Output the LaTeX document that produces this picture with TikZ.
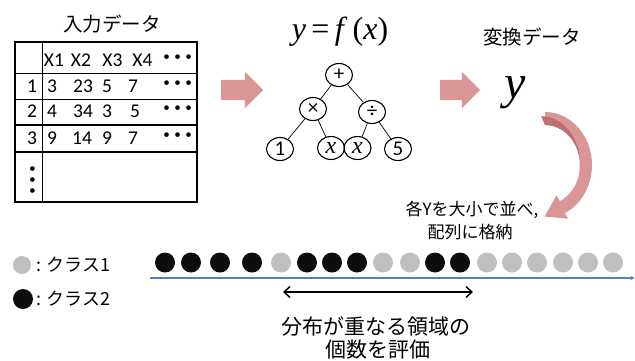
\documentclass[tikz,border=0pt]{standalone}
\usepackage{fontspec}
\setmainfont{Carlito}
\newfontfamily\cjk{Noto Sans CJK JP}
\newfontfamily\tms{Liberation Serif}
\usetikzlibrary{arrows.meta,shapes.geometric,shapes.arrows}
\definecolor{pinkarrow}{RGB}{217,150,148}
\definecolor{pinkdark}{RGB}{188,112,114}
\definecolor{dotgray}{RGB}{191,191,191}
\definecolor{dotblack}{RGB}{13,13,13}
\definecolor{lineblue}{RGB}{79,129,189}
\begin{document}
\begin{tikzpicture}[x=1pt,y=-1pt,
  tbl/.style={font=\fontsize{19.5}{20}\selectfont, inner sep=0pt, anchor=center},
  tdots/.style={font=\cjk\bfseries\fontsize{22}{22}\selectfont, inner sep=0pt, anchor=center},
  tnode/.style={ellipse, draw, line width=1.1pt, minimum width=27pt, minimum height=23pt, inner sep=0pt, font=\fontsize{21}{21}\selectfont},
  tedge/.style={line width=0.7pt},
  jp/.style={font=\cjk\fontsize{#1}{#1}\selectfont, inner sep=0pt, anchor=center},
  blockarrow/.style={single arrow, fill=pinkarrow, draw=none, minimum height=42pt, minimum width=36pt, single arrow head extend=8pt, inner sep=10pt},
  ball/.style={circle, fill=#1, draw=none, minimum size=20pt, inner sep=0pt}
]
\useasboundingbox (0,0) rectangle (635,360);

% ---------- input table ----------
\node[jp=19.5] (ttl1) at (112,24) {入力データ};
\draw[line width=1.5pt] (15,42) rectangle (197,202);
\draw[line width=1.5pt] (42.7,42) -- (42.7,202);
\foreach \yy in {73.3,99.3,125,152} \draw[line width=1.3pt] (15,\yy) -- (197,\yy);
\node[tbl] (h1) at (54,60) {X1};
\node[tbl] (h2) at (81,60) {X2};
\node[tbl] (h3) at (112.5,60) {X3};
\node[tbl] (h4) at (142.5,60) {X4};
\node[tdots] (h5) at (177.5,60) {･･･};
\node[tbl] (r1) at (32,86.5) {1};
\node[tbl] (r1a) at (52,86.5) {3};
\node[tbl] (r1b) at (83,86.5) {23};
\node[tbl] (r1c) at (107,86.5) {5};
\node[tbl] (r1d) at (133,86.5) {7};
\node[tdots] (r1e) at (177.5,86.5) {･･･};
\node[tbl] (r2) at (32,111.5) {2};
\node[tbl] (r2a) at (52,111.5) {4};
\node[tbl] (r2b) at (83,111.5) {34};
\node[tbl] (r2c) at (107,111.5) {3};
\node[tbl] (r2d) at (135,111.5) {5};
\node[tdots] (r2e) at (177.5,111.5) {･･･};
\node[tbl] (r3) at (32,138.5) {3};
\node[tbl] (r3a) at (52,138.5) {9};
\node[tbl] (r3b) at (82,138.5) {14};
\node[tbl] (r3c) at (107,138.5) {9};
\node[tbl] (r3d) at (133,138.5) {7};
\node[tdots] (r3e) at (177.5,138.5) {･･･};
\node[tdots, rotate=-90] (r4) at (30,180) {･･･};

% ---------- arrows ----------
\node[blockarrow] (arrA) at (237,90) {};
\node[blockarrow, minimum height=40pt] (arrB) at (455,90) {};

% ---------- expression tree ----------
\node[font=\tms\fontsize{32}{32}\selectfont, inner sep=0pt, anchor=base] (fx) at (340,39) {\textit{y}\,=\,\textit{f}\,(\textit{x})};
\node[tnode] (plus) at (339,75) {+};
\node[tnode] (times) at (313,109) {×};
\node[tnode] (div) at (372,112) {÷};
\node[tnode] (one) at (280,149) {1};
\node[tnode, font=\tms\itshape\fontsize{24}{24}\selectfont] (xa) at (331,148) {x};
\node[tnode, font=\tms\itshape\fontsize{24}{24}\selectfont] (xb) at (357.5,148) {x};
\node[tnode] (five) at (398,149) {5};
\draw[tedge] (plus) -- (times);
\draw[tedge] (plus) -- (div);
\draw[tedge] (times) -- (one);
\draw[tedge] (times) -- (xa);
\draw[tedge] (div) -- (xb);
\draw[tedge] (div) -- (five);

% ---------- transformed data ----------
\node[jp=19.5] (ttl2) at (532,37) {変換データ};
\node[font=\tms\itshape\fontsize{48}{48}\selectfont, inner sep=0pt, anchor=base] (ybig) at (515,98) {y};

% curved arrow
\fill[pinkarrow] (545,112) arc[start angle=-90, end angle=65, x radius=47, y radius=53]
  -- (568.2,218.7) -- (544.6,216.5) -- (556.4,195.5) -- (559.8,201.2)
  arc[start angle=65, end angle=-90, x radius=35, y radius=40] -- cycle;
\fill[pinkdark] (545,125) arc[start angle=-90, end angle=15, x radius=35, y radius=40]
  arc[start angle=15, end angle=-90, x radius=39, y radius=47] -- cycle;

\node[jp=17] (sort1) at (472,210) {各Yを大小で並べ,};
\node[jp=17] (sort2) at (470,232) {配列に格納};

% ---------- legend ----------
\node[circle, fill=dotgray, minimum size=18pt, inner sep=0pt] (lg1) at (22,265) {};
\node[circle, fill=dotblack, minimum size=20pt, inner sep=0pt] (lg2) at (23,299) {};
\node[jp=18, anchor=west] (lt1) at (36,265) {: クラス1};
\node[jp=18, anchor=west] (lt2) at (36,299) {: クラス2};

% ---------- sorted array ----------
\foreach \i/\xx/\cc in {1/165/dotblack,2/191/dotblack,3/220/dotblack,4/252/dotblack,5/281/dotgray,6/307/dotblack,7/332/dotblack,8/357/dotblack,9/383/dotgray,10/410/dotgray,11/435/dotblack,12/460/dotblack,13/487/dotgray,14/512/dotgray,15/537/dotgray,16/563/dotgray,17/588/dotgray,18/613/dotgray}
  \node[ball=\cc] (d\i) at (\xx,262.5) {};
\coordinate (axs) at (150,278);
\coordinate (axe) at (634.5,278);
\draw[lineblue, line width=1.5pt, -{Stealth[length=4pt,width=4pt]}] (axs) -- (axe);

\coordinate (ol) at (283,292);
\coordinate (orr) at (473,292);
\draw[line width=1.4pt, {Straight Barb[length=6pt,width=11pt]}-{Straight Barb[length=6pt,width=11pt]}] (ol) -- (orr);

\node[jp=21] (ev1) at (376,327) {分布が重なる領域の};
\node[jp=21] (ev2) at (378,350) {個数を評価};
\end{tikzpicture}
\end{document}
